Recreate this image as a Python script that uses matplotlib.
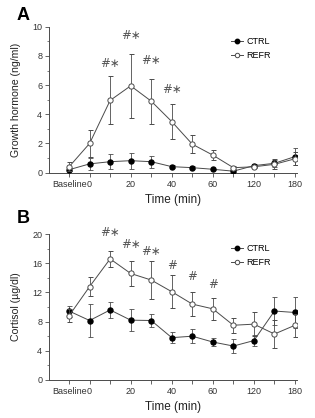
import numpy as np
import matplotlib
matplotlib.use("Agg")
import matplotlib.pyplot as plt
from matplotlib.lines import Line2D
from matplotlib.ticker import MultipleLocator

plt.rcParams['font.family'] = ['Liberation Sans', 'DejaVu Sans']

# time points (categorical positions on the x axis)
time_points = ['Baseline', '0', '10', '20', '30', '40', '50', '60', '90', '120', '150', '180']
shown_labels = ['Baseline', '0', '20', '40', '60', '120', '180']

# panel A: growth hormone (ng/ml)
gh_ctrl = [0.2, 0.6, 0.75, 0.82, 0.75, 0.41, 0.34, 0.23, 0.1, 0.48, 0.64, 1.1]
gh_ctrl_err = [0.1, 0.4, 0.5, 0.55, 0.4, 0.12, 0.1, 0.05, 0.05, 0.1, 0.25, 0.6]
gh_refr = [0.4, 2.0, 4.95, 5.95, 4.9, 3.5, 1.95, 1.2, 0.34, 0.4, 0.57, 0.95]
gh_refr_err = [0.3, 0.9, 1.65, 2.2, 1.55, 1.2, 0.6, 0.35, 0.1, 0.1, 0.35, 0.45]
gh_marks = {'10': '#∗', '20': '#∗', '30': '#∗', '40': '#∗'}
gh_mark_y = [7.5, 9.4, 7.7, 5.7]

# panel B: cortisol (ug/dl)
cort_ctrl = [9.45, 8.15, 9.6, 8.2, 8.15, 5.8, 6.0, 5.2, 4.65, 5.4, 9.45, 9.25]
cort_ctrl_err = [0.75, 2.2, 1.05, 1.5, 0.95, 0.75, 0.95, 0.5, 0.95, 0.8, 1.9, 2.1]
cort_refr = [8.8, 12.8, 16.6, 14.6, 13.7, 12.1, 10.4, 9.75, 7.5, 7.65, 6.3, 7.5]
cort_refr_err = [0.9, 1.35, 1.05, 1.75, 2.55, 2.25, 1.6, 1.55, 1.05, 1.6, 1.9, 1.6]
cort_marks = {'10': '#∗', '20': '#∗', '30': '#∗', '40': '#', '50': '#', '60': '#'}
cort_mark_y = [20.2, 18.6, 17.6, 15.7, 14.2, 13.1]

GREY = '#4a4a4a'


def PlotPanel(ax, ctrl, ctrl_err, refr, refr_err, marks, mark_y, ylabel, ymax, ystep,
              letter, letter_y):
    """Draw one panel with the two groups, error bars and significance marks."""
    x = np.arange(len(time_points))
    ax.errorbar(x, ctrl, yerr=ctrl_err, fmt='-o', color=GREY, mfc='black', mec='black',
                ms=3.6, lw=0.7, elinewidth=0.6, ecolor=GREY, capsize=1.8, capthick=0.6,
                zorder=3)
    ax.errorbar(x, refr, yerr=refr_err, fmt='-o', color=GREY, mfc='white', mec=GREY,
                ms=3.8, mew=0.7, lw=0.7, elinewidth=0.6, ecolor=GREY, capsize=1.8,
                capthick=0.6, zorder=4)

    for (t, s), y in zip(marks.items(), mark_y):
        ax.text(time_points.index(t), y, s, ha='center', va='center', fontsize=8.5,
                color='#555555', family=['DejaVu Sans'], clip_on=False)

    ax.set_xlim(-0.97, 11.1)
    ax.set_ylim(0, ymax)
    ax.set_xticks(x)
    ax.set_xticklabels([t if t in shown_labels else '' for t in time_points])
    for lab in ax.get_xticklabels():
        lab.set_fontsize(4.8 if lab.get_text() == 'Baseline' else 6.5)
    ax.yaxis.set_major_locator(MultipleLocator(ystep))
    ax.yaxis.set_minor_locator(MultipleLocator(ystep / 2))
    ax.tick_params(axis='both', colors=GREY, labelcolor='#333333', width=0.6, length=3,
                   labelsize=6.5, pad=2)
    ax.tick_params(axis='y', which='minor', colors=GREY, width=0.5, length=1.8)
    for side in ['top', 'right']:
        ax.spines[side].set_visible(False)
    for side in ['left', 'bottom']:
        ax.spines[side].set_color(GREY)
        ax.spines[side].set_linewidth(0.7)

    ax.set_ylabel(ylabel, fontsize=7.6, color='#222222', labelpad=8)
    ax.set_xlabel('Time (min)', fontsize=8.5, color='#222222', labelpad=4)

    handles = [Line2D([], [], color=GREY, lw=0.7, marker='o', ms=3.2, mfc='black',
                      mec='black'),
               Line2D([], [], color=GREY, lw=0.7, marker='o', ms=3.2, mfc='white',
                      mec=GREY, mew=0.7)]
    ax.legend(handles, ['CTRL', 'REFR'], loc='upper left', bbox_to_anchor=(0.735, 0.93),
              frameon=False, fontsize=6.5, handlelength=1.3, handletextpad=0.4,
              labelspacing=0.55, borderaxespad=0.0, borderpad=0.0)
    ax.text(-0.105, letter_y, letter, transform=ax.transAxes, fontsize=13,
            fontweight='bold', ha='center', va='center')


fig = plt.figure(figsize=(3.15, 4.18), dpi=100)
ax_a = fig.add_axes([0.156, 0.587, 0.787, 0.349])
ax_b = fig.add_axes([0.156, 0.091, 0.787, 0.349])

PlotPanel(ax_a, gh_ctrl, gh_ctrl_err, gh_refr, gh_refr_err, gh_marks, gh_mark_y,
          'Growth hormone (ng/ml)', 10, 2, 'A', 1.08)
PlotPanel(ax_b, cort_ctrl, cort_ctrl_err, cort_refr, cort_refr_err, cort_marks, cort_mark_y,
          'Cortisol (µg/dl)', 20, 4, 'B', 1.11)

fig.savefig('out.png', dpi=100)
